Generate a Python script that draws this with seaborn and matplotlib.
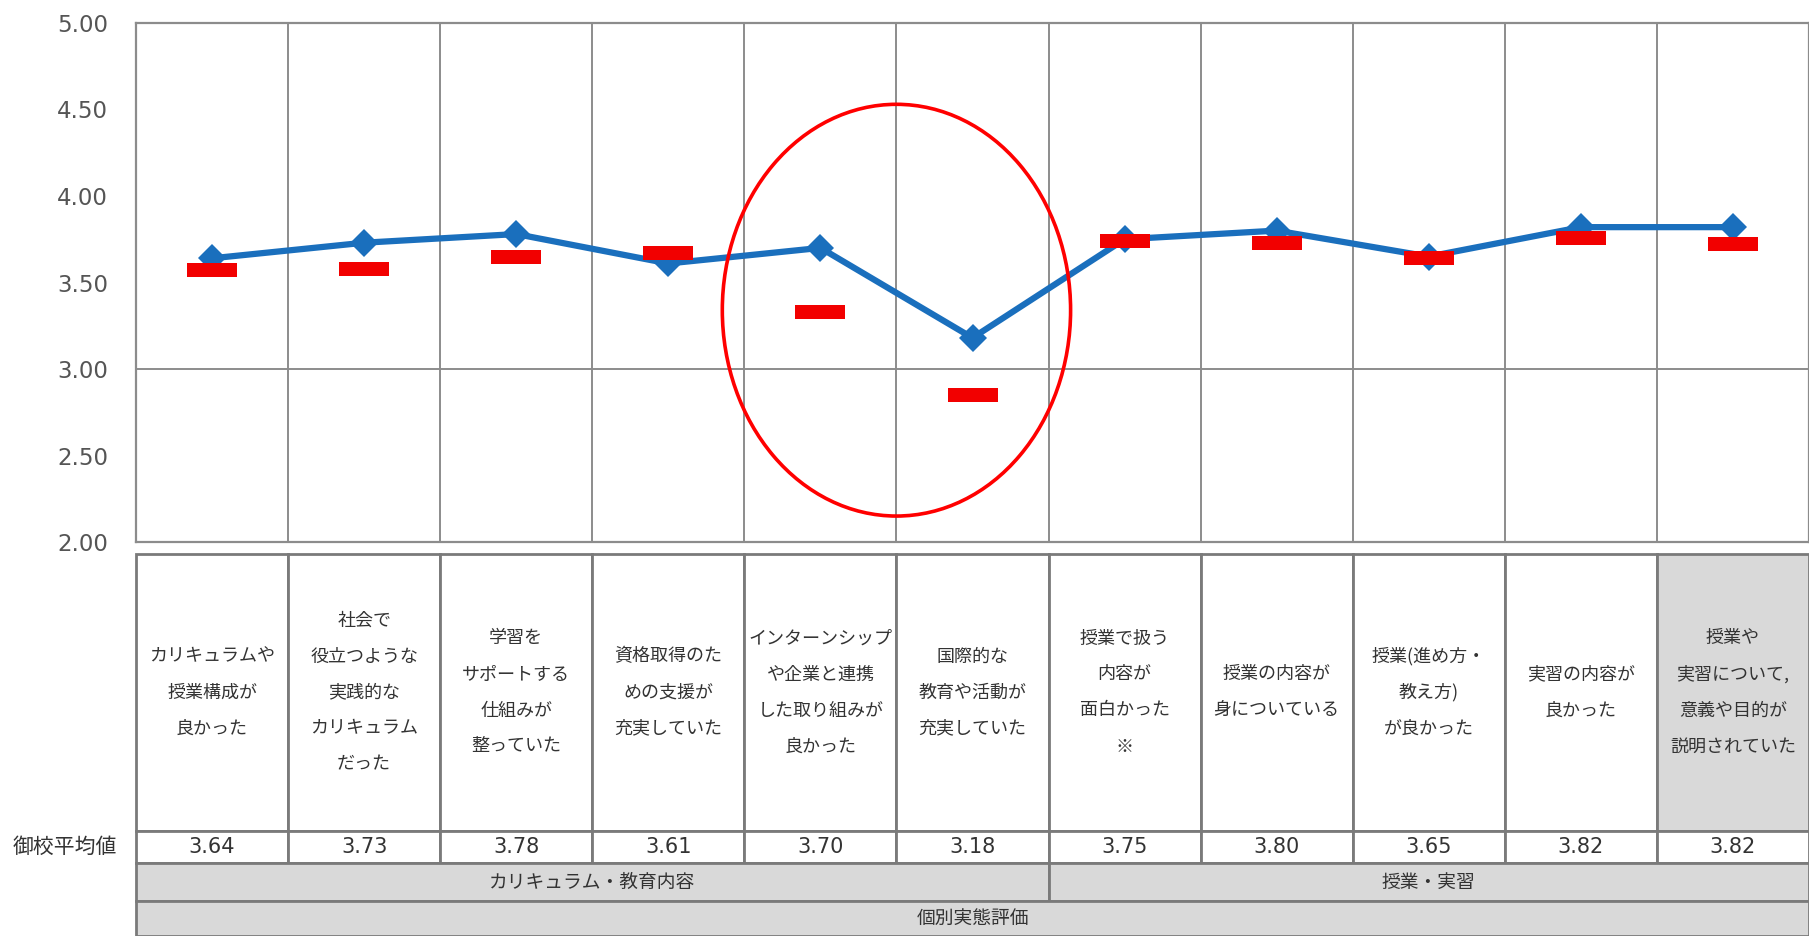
import numpy as np
import matplotlib
matplotlib.use("Agg")
import matplotlib.pyplot as plt
from matplotlib.patches import Rectangle, Ellipse
from matplotlib.path import Path
import seaborn as sns

# ---- data ----
labels = [
    "カリキュラムや\n授業構成が\n良かった",
    "社会で\n役立つような\n実践的な\nカリキュラム\nだった",
    "学習を\nサポートする\n仕組みが\n整っていた",
    "資格取得のた\nめの支援が\n充実していた",
    "インターンシップ\nや企業と連携\nした取り組みが\n良かった",
    "国際的な\n教育や活動が\n充実していた",
    "授業で扱う\n内容が\n面白かった\n※",
    "授業の内容が\n身についている",
    "授業(進め方・\n教え方)\nが良かった",
    "実習の内容が\n良かった",
    "授業や\n実習について,\n意義や目的が\n説明されていた",
]
school_avg = [3.64, 3.73, 3.78, 3.61, 3.70, 3.18, 3.75, 3.80, 3.65, 3.82, 3.82]
overall_avg = [3.57, 3.58, 3.65, 3.67, 3.33, 2.85, 3.74, 3.73, 3.64, 3.76, 3.72]
categories = ["カリキュラム・教育内容", "授業・実習"]
category_spans = [6, 5]
group_title = "個別実態評価"
row_label = "御校平均値"
y_ticks = [2.0, 2.5, 3.0, 3.5, 4.0, 4.5, 5.0]

sns.set_style("white")
plt.rcParams['font.family'] = ['Noto Sans CJK JP', 'DejaVu Sans']

W, H = 1809, 936
fig = plt.figure(figsize=(W / 100, H / 100), dpi=100)

blue = "#1a6fbd"
red = "#f20000"
grid_c = "#8c8c8c"
txt_c = "#333333"

# ---- line chart ----
ax = fig.add_axes([136 / W, 1 - 542 / H, 1 - 136 / W, (542 - 23) / H])
xs = np.arange(len(school_avg))
sns.lineplot(x=xs, y=school_avg, ax=ax, color=blue, lw=4.5, marker="D",
             markersize=14, markeredgewidth=0, zorder=3)
bar_marker = Path([(-1, -0.26), (1, -0.26), (1, 0.26), (-1, 0.26), (-1, -0.26)],
                  [Path.MOVETO, Path.LINETO, Path.LINETO, Path.LINETO, Path.CLOSEPOLY])
sns.scatterplot(x=xs, y=overall_avg, ax=ax, color=red, marker=bar_marker,
                s=36.5 ** 2, linewidth=0, zorder=4)

ax.set_xlim(-0.5, len(xs) - 0.5)
ax.set_ylim(2, 5)
ax.set_yticks(y_ticks)
ax.set_yticklabels([f"{t:.2f}" for t in y_ticks], family="DejaVu Sans")
ax.set_xticks([])
ax.tick_params(axis="y", length=0, pad=20, labelsize=16.5, labelcolor="#555555")
for i in range(len(xs) - 1):
    ax.axvline(i + 0.5, color=grid_c, lw=1.4, zorder=1)
ax.axhline(3.0, color=grid_c, lw=1.4, zorder=1)
for s in ax.spines.values():
    s.set_color(grid_c)
    s.set_linewidth(1.6)

ax.add_patch(Ellipse((4.5, 3.34), 2.29, 2.38, fill=False, ec="red", lw=2.6,
                     zorder=5, clip_on=False))

# ---- table below ----
tax = fig.add_axes([136 / W, 0, 1 - 136 / W, 1 - 554 / H])
n = len(labels)
rows = [0, 277, 309, 347, 382]
tax.set_xlim(0, n)
tax.set_ylim(rows[-1], 0)
tax.axis("off")
edge = "#7a7a7a"
gray = "#d9d9d9"

for i, lab in enumerate(labels):
    fc = gray if i == n - 1 else "white"
    tax.add_patch(Rectangle((i, rows[0]), 1, rows[1] - rows[0], fc=fc, ec=edge,
                            lw=2, clip_on=False))
    lines = lab.split("\n")
    mid = (rows[0] + rows[1]) / 2
    for k, line in enumerate(lines):
        tax.text(i + 0.5, mid + (k - (len(lines) - 1) / 2) * 36, line,
                 ha="center", va="center", fontsize=13, color=txt_c)
    tax.add_patch(Rectangle((i, rows[1]), 1, rows[2] - rows[1], fc="white", ec=edge,
                            lw=2, clip_on=False))
    tax.text(i + 0.5, (rows[1] + rows[2]) / 2, f"{school_avg[i]:.2f}",
             ha="center", va="center", fontsize=15, color=txt_c,
             family="DejaVu Sans")

start = 0
for cat, span in zip(categories, category_spans):
    tax.add_patch(Rectangle((start, rows[2]), span, rows[3] - rows[2], fc=gray,
                            ec=edge, lw=2, clip_on=False))
    tax.text(start + span / 2, (rows[2] + rows[3]) / 2, cat, ha="center",
             va="center", fontsize=13.5, color=txt_c)
    start += span

tax.add_patch(Rectangle((0, rows[3]), n, rows[4] - rows[3], fc=gray, ec=edge,
                        lw=2, clip_on=False))
tax.text(n / 2, (rows[3] + rows[4]) / 2, group_title, ha="center", va="center",
         fontsize=13.5, color=txt_c)

fig.text(65 / W, 1 - 847 / H, row_label, ha="center", va="center",
         fontsize=15, color=txt_c)

fig.savefig("out.png", dpi=100)
